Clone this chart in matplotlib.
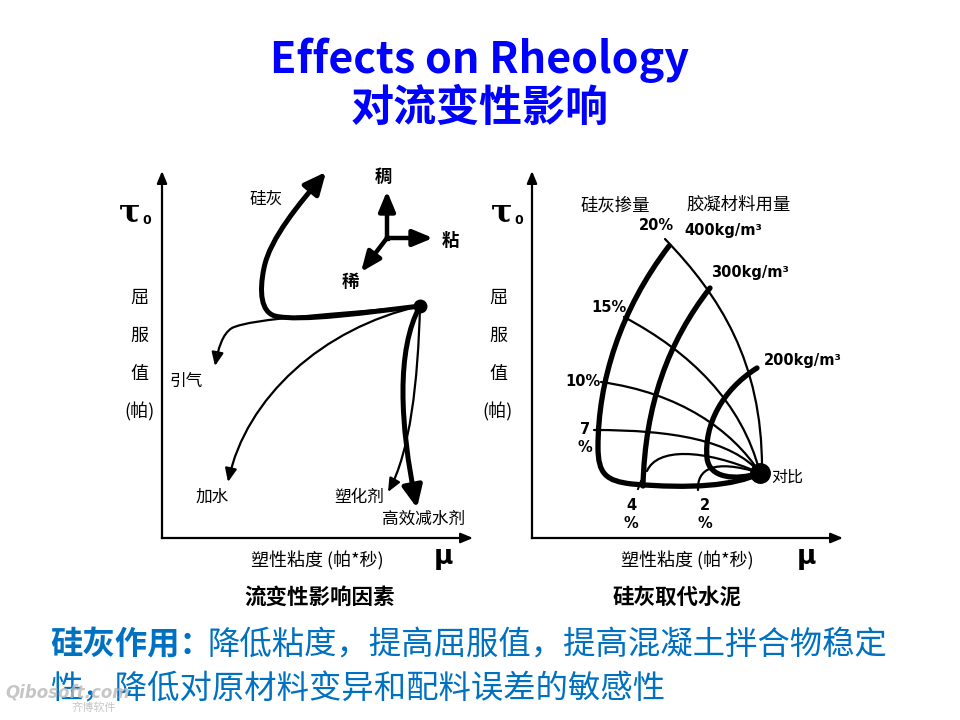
import matplotlib
matplotlib.use('Agg')
import matplotlib.pyplot as plt
from matplotlib.path import Path
from matplotlib.patches import FancyArrowPatch, PathPatch

plt.rcParams['font.family'] = ['Noto Sans CJK SC', 'DejaVu Sans']

# ---------------- texts ----------------
title_en = "Effects on Rheology"
title_zh = "对流变性影响"
ylabel_chars = ["屈", "服", "值", "(帕)"]
xlabel = "塑性粘度 (帕*秒)"
left_caption = "流变性影响因素"
right_caption = "硅灰取代水泥"
left_labels = ["硅灰", "引气", "加水", "塑化剂", "高效减水剂"]
compass_labels = ["稠", "粘", "稀"]
sf_labels = ["20%", "15%", "10%", "7\n%", "4\n%", "2\n%"]
binder_labels = ["400kg/m³", "300kg/m³", "200kg/m³"]
right_headers = ["硅灰掺量", "胶凝材料用量"]
ref_label = "对比"
bottom_bold = "硅灰作用："
bottom_line1 = "降低粘度，提高屈服值，提高混凝土拌合物稳定"
bottom_line2 = "性，降低对原材料变异和配料误差的敏感性"

# ---------------- diagram curves (cubic bezier control points, pixel space) ----------------
left_origin = (420, 306)
curve_sf = [(420, 306), (370, 312), (300, 322), (275, 316),
            (261, 312), (259, 292), (264, 268),
            (270, 238), (300, 203), (326, 172)]
curve_air = [(420, 306), (340, 314), (252, 318), (232, 328),
             (222, 334), (218, 350), (215, 366)]
curve_water = [(420, 306), (322, 328), (246, 398), (228, 482)]
curve_plast = [(420, 306), (418, 382), (410, 452), (388, 492)]
curve_super = [(420, 306), (396, 350), (400, 425), (417, 508)]
compass_origin = (387, 238)
compass_tips = [(387, 191), (433, 238), (361, 272)]

right_origin = (760, 473)
outer_thin = [(665, 239), (720, 296), (762, 362), (762, 468)]
binder400 = [(669, 246), (620, 310), (598, 382), (598, 447),
             (598, 474), (606, 481), (632, 484),
             (690, 489), (735, 486), (760, 473)]
binder300 = [(710, 288), (668, 342), (645, 405), (643, 486)]
binder200 = [(757, 368), (722, 390), (704, 425), (707, 458),
             (709, 478), (735, 481), (760, 473)]
sf15 = [(624, 317), (690, 352), (742, 402), (760, 473)]
sf10 = [(601, 382), (680, 393), (732, 430), (760, 473)]
sf7 = [(594, 430), (672, 430), (732, 440), (760, 473)]
sf4 = [(647, 471), (657, 448), (702, 448), (760, 473)]
sf2 = [(698, 490), (697, 470), (712, 458), (760, 473)]
sf4_tick = [(638, 489), (641, 481)]

fig = plt.figure(figsize=(9.6, 7.2), dpi=100)
ax = fig.add_axes([0, 0, 1, 1])
ax.set_xlim(0, 960)
ax.set_ylim(720, 0)
ax.axis('off')


def bez_path(pts):
    codes = [Path.MOVETO] + [Path.CURVE4] * (len(pts) - 1)
    return Path(pts, codes)


def draw_curve(pts, lw, arrow=False, hl=10, hw=5):
    path = bez_path(pts)
    if arrow:
        p = FancyArrowPatch(path=path, arrowstyle=f'-|>,head_length={hl},head_width={hw}',
                            lw=lw, color='black', mutation_scale=1, joinstyle='round',
                            capstyle='round')
    else:
        p = PathPatch(path, fill=False, lw=lw, color='black', capstyle='round', joinstyle='round')
    ax.add_patch(p)


def axis_arrow(p0, p1, lw=1.6):
    ax.annotate('', xy=p1, xytext=p0,
                arrowprops=dict(arrowstyle='-|>,head_length=0.6,head_width=0.25', lw=lw,
                                color='black', shrinkA=0, shrinkB=0, mutation_scale=12))

# ---------------- titles ----------------
blue = '#0000FF'
ax.text(480, 60, title_en, ha='center', va='center', fontsize=31, fontweight='bold',
        color=blue)
ax.text(480, 108, title_zh, ha='center', va='center', fontsize=31, fontweight='bold', color=blue)

# ---------------- panel axes ----------------
for (x0, y0, xr, yt, tx, lab_x, mu_x, cap, capx) in [
        (162, 538, 473, 171, 141, 139, 443, left_caption, 320),
        (532, 538, 843, 171, 513, 498, 806, right_caption, 677)]:
    ax.plot([x0, x0], [y0, yt + 8], color='black', lw=1.6)
    ax.plot([x0, xr - 8], [y0, y0], color='black', lw=1.6)
    axis_arrow((x0, yt + 10), (x0, yt))
    axis_arrow((xr - 10, y0), (xr, y0))
    ax.text(tx, 213, 'τ', ha='right', va='center', fontsize=23, fontweight='bold',
            family=['DejaVu Serif'])
    ax.text(tx + 1, 220, '0', ha='left', va='center', fontsize=9, fontweight='bold',
            family=['DejaVu Sans'])
    for i, ch in enumerate(ylabel_chars):
        ax.text(lab_x, 298 + i * 38, ch, ha='center', va='center', fontsize=13)
    ax.text((x0 + xr) / 2 + 0, 561, xlabel, ha='center', va='center', fontsize=13)
    ax.text(mu_x, 557, 'μ', ha='center', va='center', fontsize=19, fontweight='bold',
            family=['DejaVu Sans'])
    ax.text(capx, 597, cap, ha='center', va='center', fontsize=15.5, fontweight='bold')

# ---------------- left panel ----------------
draw_curve(curve_sf, 3.6, arrow=True, hl=13, hw=6)
draw_curve(curve_air, 1.6, arrow=True, hl=8, hw=3.5)
draw_curve(curve_water, 1.6, arrow=True, hl=8, hw=3.5)
draw_curve(curve_plast, 1.6, arrow=True, hl=8, hw=3.5)
draw_curve(curve_super, 3.6, arrow=True, hl=13, hw=6)
ax.plot(*left_origin, 'o', color='black', ms=9)
for tip in compass_tips:
    ax.annotate('', xy=tip, xytext=compass_origin,
                arrowprops=dict(arrowstyle='-|>,head_length=12,head_width=5', lw=3.2,
                                color='black', shrinkA=0, shrinkB=0, mutation_scale=1))
ax.plot([compass_origin[0]], [compass_origin[1]], 's', color='black', ms=2.5)
left_label_pos = [(266, 199), (186, 381), (212, 497), (359, 497), (424, 519)]
for lab, (x, y) in zip(left_labels, left_label_pos):
    ax.text(x, y, lab, ha='center', va='center', fontsize=12)
compass_pos = [(383, 177), (450, 241), (350, 282)]
for lab, (x, y) in zip(compass_labels, compass_pos):
    ax.text(x, y, lab, ha='center', va='center', fontsize=12.5, fontweight='bold')

# ---------------- right panel ----------------
draw_curve(outer_thin, 1.6)
for c in (sf15, sf10, sf7, sf4, sf2):
    draw_curve(c, 1.6)
ax.plot([p[0] for p in sf4_tick], [p[1] for p in sf4_tick], color='black', lw=1.4)
for c in (binder400, binder300, binder200):
    draw_curve(c, 3.8)
ax.plot(*right_origin, 'o', color='black', ms=14)
ax.text(787, 477, ref_label, ha='center', va='center', fontsize=11.5)
sf_pos = [(656, 225), (609, 307), (583, 382), (585, 438), (631, 514), (705, 514)]
for lab, (x, y) in zip(sf_labels, sf_pos):
    ax.text(x, y, lab, ha='center', va='center', fontsize=10.5, fontweight='bold',
            linespacing=1.25, family=['DejaVu Sans'])
binder_pos = [(723, 231), (750, 273), (803, 360)]
for lab, (x, y) in zip(binder_labels, binder_pos):
    ax.text(x, y, lab, ha='center', va='center', fontsize=10.5, fontweight='bold',
            family=['DejaVu Sans'])
ax.text(615, 205, right_headers[0], ha='center', va='center', fontsize=12.5)
ax.text(739, 205, right_headers[1], ha='center', va='center', fontsize=12.5)

# ---------------- bottom text ----------------
tblue = '#0070C0'
ax.text(50, 645, bottom_bold, ha='left', va='center', fontsize=23.3, fontweight='bold', color=tblue)
ax.text(208, 645, bottom_line1, ha='left', va='center', fontsize=23.3, color=tblue)
ax.text(50, 690, bottom_line2, ha='left', va='center', fontsize=23.3, color=tblue)

# watermark
ax.text(5, 692, 'Qibosoft.com', ha='left', va='center', fontsize=12, style='italic',
        color='#b8b8b8', family=['DejaVu Sans'], fontweight='bold', alpha=0.8)
ax.text(72, 708, '齐博软件', ha='left', va='center', fontsize=8, color='#b8b8b8', alpha=0.8)

fig.savefig('out.png', dpi=100)
